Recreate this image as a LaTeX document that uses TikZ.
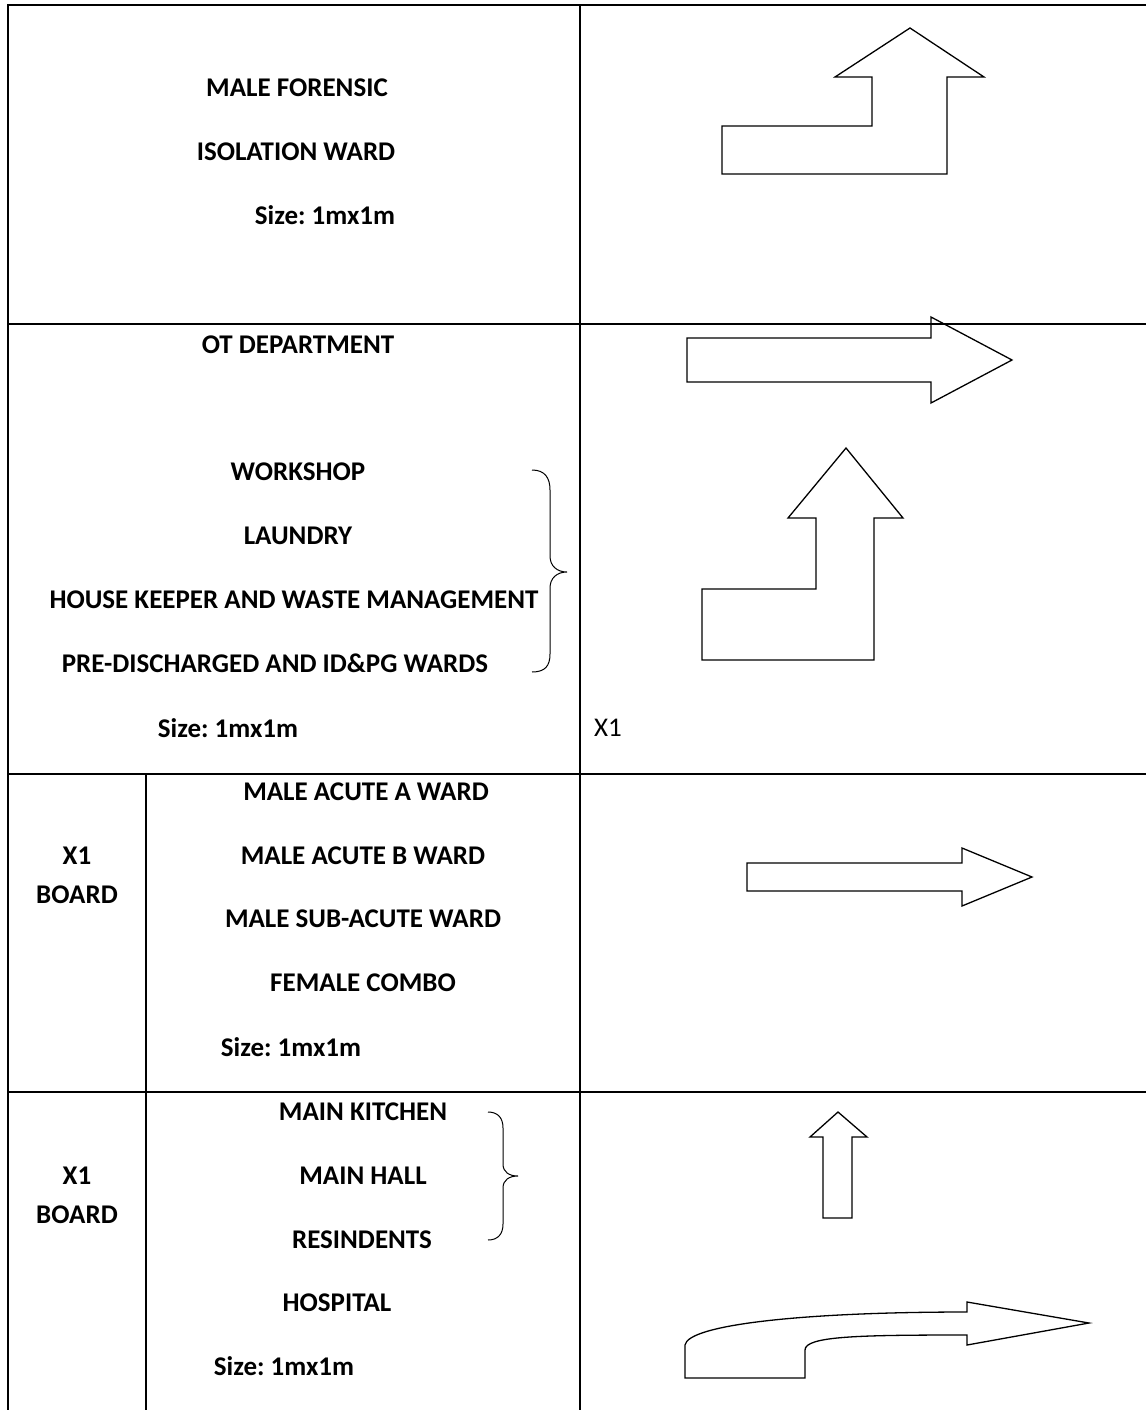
\documentclass[tikz,border=0pt]{standalone}
\usepackage{fontspec}
\setmainfont{Carlito}
\usetikzlibrary{positioning}
\frenchspacing

\begin{document}
\begin{tikzpicture}[x=1pt, y=-1pt, line width=1.2pt,
  ward/.style={font=\bfseries\fontsize{27}{32}\selectfont, inner sep=0pt},
  plain/.style={font=\fontsize{27}{32}\selectfont, inner sep=0pt},
  sign/.style={line width=1.3pt, line join=miter}]
\useasboundingbox (0, 0) rectangle (1146, 1410);
% table
\draw (8, 1410) -- (8, 5) -- (1146, 5);
\draw (580, 5) -- (580, 1410);
\draw (8, 324) -- (1146, 324);
\draw (8, 774) -- (1146, 774);
\draw (8, 1092) -- (1146, 1092);
\draw (146, 774) -- (146, 1410);
% row 1
\node [ward] (forensic) at (297, 88) {MALE FORENSIC};
\node [ward] (isolation) at (296, 152) {ISOLATION WARD};
\node [ward] (size1) at (325, 215) {Size: 1mx1m};
\draw [sign] (722, 126) -- (872, 126) -- (872, 77) -- (835, 77) -- (910, 28) -- (984, 77) -- (947, 77) -- (947, 174) -- (722, 174) -- cycle;
% row 2
\node [ward] (otdept) at (298, 345) {OT DEPARTMENT};
\node [ward] (workshop) at (298, 472) {WORKSHOP};
\node [ward] (laundry) at (298, 536) {LAUNDRY};
\node [ward] (housekeeper) at (294, 600) {HOUSE KEEPER AND WASTE MANAGEMENT};
\node [ward] (predischarged) at (275, 663) {PRE-DISCHARGED AND ID\&PG WARDS};
\node [ward] (size2) at (228, 728) {Size: 1mx1m};
\node [plain] (xone) at (608, 728) {X1};
\draw [line width=1pt] (532, 470) .. controls (545, 470) and (550, 478) .. (550, 490) -- (550, 556) .. controls (550, 566) and (557, 572) .. (567, 572) .. controls (557, 572) and (550, 578) .. (550, 588) -- (550, 654) .. controls (550, 666) and (545, 672) .. (532, 672);
\draw [sign] (687, 338) -- (931, 338) -- (931, 317) -- (1012, 360) -- (931, 403) -- (931, 382) -- (687, 382) -- cycle;
\draw [sign] (702, 589) -- (816, 589) -- (816, 518) -- (788, 518) -- (846, 448) -- (903, 518) -- (874, 518) -- (874, 660) -- (702, 660) -- cycle;
% row 3
\node [ward] (xonea) at (77, 856) {X1};
\node [ward] (boarda) at (77, 895) {BOARD};
\node [ward] (acutea) at (366, 792) {MALE ACUTE A WARD};
\node [ward] (acuteb) at (363, 856) {MALE ACUTE B WARD};
\node [ward] (subacute) at (363, 919) {MALE SUB-ACUTE WARD};
\node [ward] (female) at (363, 983) {FEMALE COMBO};
\node [ward] (size3) at (291, 1047) {Size: 1mx1m};
\draw [sign] (747, 863) -- (962, 863) -- (962, 848) -- (1032, 877) -- (962, 906) -- (962, 891) -- (747, 891) -- cycle;
% row 4
\node [ward] (xoneb) at (77, 1176) {X1};
\node [ward] (boardb) at (77, 1215) {BOARD};
\node [ward] (kitchen) at (363, 1112) {MAIN KITCHEN};
\node [ward] (hall) at (363, 1176) {MAIN HALL};
\node [ward] (residents) at (362, 1240) {RESINDENTS};
\node [ward] (hospital) at (337, 1303) {HOSPITAL};
\node [ward] (size4) at (284, 1366) {Size: 1mx1m};
\draw [line width=1pt] (488, 1112) .. controls (498, 1112) and (503, 1118) .. (503, 1128) -- (503, 1164) .. controls (503, 1172) and (509, 1176) .. (518, 1176) .. controls (509, 1176) and (503, 1180) .. (503, 1188) -- (503, 1224) .. controls (503, 1234) and (498, 1240) .. (488, 1240);
\draw [sign] (823, 1218) -- (823, 1137) -- (810, 1137) -- (838, 1112) -- (867, 1137) -- (852, 1137) -- (852, 1218) -- cycle;
\draw [sign] (685, 1378) -- (685, 1345) .. controls (688, 1325) and (800, 1312) .. (967, 1312) -- (967, 1302) -- (1089, 1323) -- (967, 1345) -- (967, 1335) .. controls (860, 1335) and (805, 1336) .. (805, 1350) -- (805, 1378) -- cycle;
\end{tikzpicture}
\end{document}
